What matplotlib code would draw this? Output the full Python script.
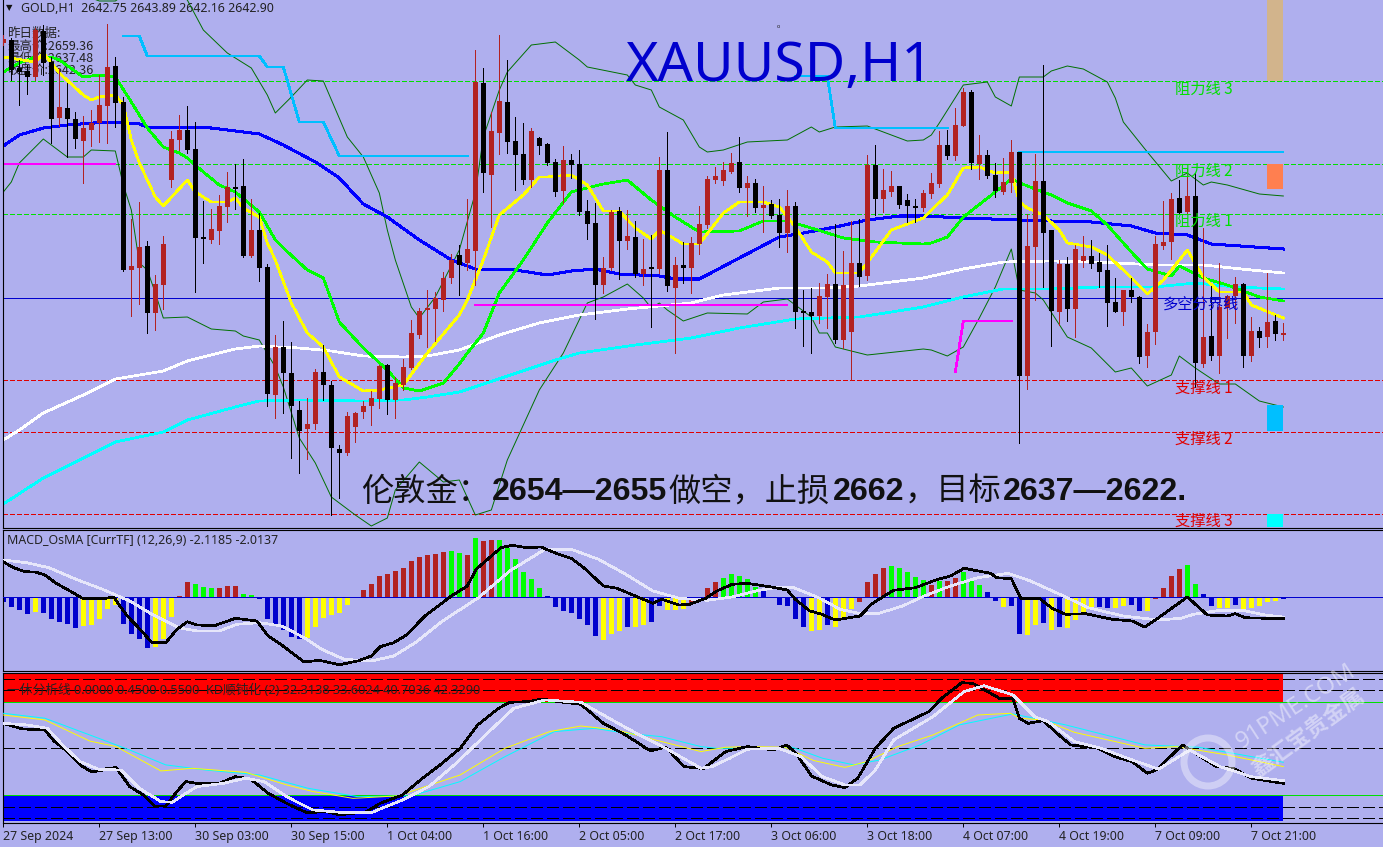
import matplotlib
matplotlib.use("Agg")
import matplotlib.pyplot as plt
import matplotlib.transforms as mtransforms
from matplotlib.patches import Rectangle, Circle

plt.rcParams['font.family'] = ['Noto Sans', 'Noto Sans CJK SC', 'DejaVu Sans']
plt.rcParams['lines.antialiased'] = False

# ---- price data, one value per hourly bar
opens = [2671.9,2672.2,2669.4,2669.1,2668.5,2673.1,2670.0,2664.4,2665.4,2664.3,2662.1,2663.2,2663.9,2665.6,2669.6,2666.0,2649.2,2649.4,2651.6,2644.9,
         2647.7,2658.2,2662.2,2663.2,2661.3,2652.4,2652.2,2653.1,2655.5,2657.4,2657.6,2650.6,2653.2,2649.5,2636.7,2641.5,2638.9,2635.2,2633.3,2633.8,
         2639.0,2637.7,2631.3,2630.9,2633.5,2635.0,2635.6,2636.3,2639.7,2636.2,2637.7,2639.4,2642.7,2645.2,2645.3,2646.2,2648.4,2650.7,2649.9,2651.1,
         2667.9,2658.7,2662.9,2666.0,2662.1,2660.8,2658.2,2662.4,2661.8,2660.0,2657.1,2660.2,2659.8,2655.1,2653.9,2647.7,2649.4,2655.1,2652.1,2652.5,
         2648.8,2649.4,2649.3,2659.2,2647.4,2649.7,2649.4,2651.8,2653.7,2658.2,2658.1,2659.0,2660.0,2657.4,2657.9,2655.4,2655.8,2654.7,2652.9,2655.6,
         2645.0,2645.0,2644.6,2646.5,2647.8,2642.2,2643.0,2649.9,2648.6,2659.7,2656.3,2657.0,2657.6,2656.2,2655.5,2655.4,2656.8,2657.8,2661.7,2660.6,
         2663.6,2667.0,2659.8,2660.7,2658.7,2657.0,2657.9,2661.0,2638.6,2651.5,2658.1,2653.2,2645.0,2649.8,2645.3,2650.1,2650.6,2650.0,2649.2,2646.0,
         2645.0,2647.2,2646.5,2640.6,2643.0,2651.6,2652.0,2656.4,2655.0,2656.6,2639.8,2642.6,2640.6,2645.4,2646.6,2647.8,2640.6,2643.1,2642.5,2644.1,2642.75]
highs = [2672.7,2672.4,2670.2,2669.7,2673.4,2673.7,2670.5,2669.4,2667.9,2665.0,2664.6,2665.2,2668.7,2673.8,2670.5,2666.5,2654.3,2656.0,2652.1,2648.7,
         2652.6,2663.1,2664.7,2665.6,2664.0,2656.1,2655.3,2656.7,2659.0,2659.8,2660.3,2656.3,2654.9,2649.8,2642.7,2644.1,2642.0,2636.1,2636.4,2639.3,
         2641.7,2638.1,2631.7,2635.0,2635.0,2636.1,2637.1,2639.7,2639.8,2638.5,2640.3,2644.2,2645.4,2647.2,2647.0,2649.0,2650.8,2651.7,2656.3,2671.2,
         2669.4,2665.0,2672.7,2670.2,2664.5,2663.9,2663.4,2662.5,2661.9,2660.3,2661.6,2660.8,2661.2,2656.2,2655.9,2650.5,2655.2,2655.5,2655.2,2654.1,
         2652.3,2652.7,2660.5,2663.0,2650.5,2652.0,2652.5,2655.6,2658.6,2659.5,2660.0,2660.9,2662.5,2658.6,2658.3,2657.6,2656.2,2656.3,2657.2,2656.0,
         2647.2,2647.4,2647.9,2648.8,2653.8,2651.1,2654.1,2654.3,2660.7,2661.7,2659.3,2659.1,2657.6,2656.8,2656.3,2657.2,2658.9,2663.1,2663.2,2665.4,
         2667.4,2667.2,2662.7,2661.2,2659.9,2660.4,2662.2,2661.0,2654.8,2660.8,2669.7,2653.2,2650.2,2650.5,2651.7,2652.6,2652.2,2650.9,2651.7,2648.4,
         2647.2,2648.4,2646.6,2643.8,2652.6,2656.1,2656.9,2658.2,2659.3,2658.9,2653.4,2647.6,2649.9,2646.7,2648.5,2647.9,2644.5,2643.5,2648.9,2644.7,2643.89]
lows = [2671.7,2668.2,2665.7,2666.8,2668.2,2668.7,2661.9,2663.6,2660.5,2661.4,2657.9,2661.6,2662.0,2661.9,2663.5,2649.1,2644.6,2645.8,2642.9,2643.2,
        2645.3,2657.5,2661.2,2660.9,2647.0,2649.9,2651.9,2651.8,2654.0,2655.3,2650.5,2650.5,2648.1,2635.6,2634.4,2634.9,2630.4,2628.9,2630.3,2633.3,
        2636.2,2624.7,2626.4,2630.7,2632.0,2634.4,2633.7,2635.4,2634.8,2634.4,2637.2,2639.3,2642.4,2641.5,2642.1,2645.1,2647.9,2646.7,2649.2,2647.7,
        2657.0,2653.5,2660.8,2660.9,2657.2,2657.8,2657.5,2660.8,2659.7,2656.6,2655.9,2658.4,2654.7,2652.3,2644.3,2646.9,2649.2,2648.3,2651.3,2648.5,
        2647.7,2643.5,2648.9,2647.1,2640.9,2647.9,2646.9,2650.8,2653.4,2657.9,2657.7,2658.9,2657.0,2654.6,2655.0,2653.0,2654.4,2651.5,2651.0,2643.4,
        2641.6,2640.9,2643.9,2643.4,2641.9,2641.4,2638.2,2647.6,2648.2,2654.7,2655.0,2656.6,2655.4,2654.0,2654.0,2655.1,2656.4,2657.5,2660.3,2660.2,
        2663.6,2659.3,2658.3,2658.4,2656.5,2656.8,2657.0,2631.9,2637.3,2646.2,2647.5,2641.6,2643.7,2644.1,2642.5,2649.5,2649.4,2647.5,2643.6,2645.0,
        2643.7,2646.0,2639.9,2639.5,2641.8,2651.3,2650.3,2654.9,2654.8,2637.5,2639.5,2640.2,2638.9,2642.4,2643.9,2639.5,2640.1,2641.5,2641.5,2642.2,2642.16]
closes = [2672.3,2669.2,2669.0,2668.5,2673.2,2669.9,2664.3,2665.5,2664.3,2662.3,2663.4,2663.9,2665.7,2669.5,2665.9,2649.2,2649.6,2651.5,2644.9,2647.8,
          2651.8,2662.3,2663.2,2661.2,2652.4,2652.3,2653.3,2655.6,2657.5,2657.3,2650.6,2653.2,2649.4,2636.8,2641.5,2638.9,2635.6,2633.1,2633.8,2639.0,
          2637.7,2631.4,2630.9,2634.6,2634.9,2635.6,2636.4,2639.6,2636.2,2637.9,2639.5,2642.9,2645.1,2645.4,2646.4,2648.4,2650.2,2649.7,2651.3,2668.0,
          2658.9,2663.1,2666.1,2662.0,2660.7,2658.2,2663.1,2661.6,2659.9,2657.0,2660.2,2659.7,2655.0,2653.8,2647.7,2649.4,2655.0,2652.1,2652.6,2648.8,
          2649.3,2649.3,2659.2,2647.6,2649.7,2649.4,2651.9,2653.8,2658.3,2658.6,2659.2,2659.9,2657.4,2657.9,2655.4,2655.7,2654.6,2652.9,2655.6,2645.0,
          2644.9,2644.6,2646.6,2647.8,2642.2,2647.7,2649.9,2648.5,2659.7,2656.3,2657.2,2657.6,2655.7,2655.6,2655.4,2656.9,2657.9,2661.7,2660.6,2663.7,
          2667.0,2659.9,2660.7,2658.6,2657.1,2658.0,2661.0,2638.6,2651.6,2658.1,2652.9,2645.1,2649.8,2645.3,2651.3,2650.6,2649.8,2649.0,2645.9,2645.0,
          2647.2,2646.5,2640.5,2643.0,2651.8,2652.0,2656.3,2654.9,2656.6,2639.9,2642.5,2640.6,2645.5,2646.6,2647.8,2640.6,2643.1,2642.4,2644.0,2642.8,2642.90]

# ---- moving averages, read as (bar, price) at the turning points
blue_k = [0,2,5,8,13,17,18,26,32,35,39,42,45,48,52,56,57,59,64,68,71,74,77,82,84,87,92,97,100,104,108,112,115,120,127,131,136,141,144,148,151,160]
blue_p = [2661.6,2662.7,2663.4,2663.7,2664.0,2663.8,2663.5,2663.4,2662.8,2661.7,2660.0,2658.4,2655.8,2654.5,2652.2,2650.2,2649.9,2649.3,2649.2,2648.7,2649.1,2649.3,2648.8,2648.6,2648.3,2648.3,2650.4,2652.5,2652.9,2653.5,2654.2,2654.6,2654.6,2654.4,2654.2,2654.1,2654.0,2653.6,2652.9,2652.7,2651.8,2651.3]
green_k = [0,2,4,6,7,10,12,14,16,18,20,22,23,25,27,29,32,34,35,38,40,42,45,48,50,52,55,57,58,60,62,65,68,71,75,78,81,84,87,92,95,98,101,105,109,115,116,118,120,124,126,128,131,133,136,138,141,143,146,147,150,153,157,160]
green_p = [2669.0,2669.9,2670.5,2670.5,2670.2,2668.5,2668.7,2668.5,2666.0,2663.4,2661.5,2660.9,2660.4,2659.0,2657.7,2657.0,2655.0,2652.2,2651.4,2649.2,2648.4,2644.0,2641.4,2639.2,2637.4,2637.1,2637.9,2639.8,2640.9,2642.9,2646.9,2650.2,2653.9,2657.0,2657.8,2658.2,2656.2,2654.5,2653.0,2653.1,2654.1,2654.1,2653.4,2652.4,2652.0,2651.8,2651.9,2652.5,2654.5,2657.0,2658.3,2657.6,2656.7,2655.9,2655.1,2653.7,2651.0,2649.3,2648.6,2649.6,2648.4,2647.7,2646.5,2646.1]
yellow_k = [0,4,5,6,7,10,11,12,14,15,16,17,19,20,23,24,26,28,29,30,32,33,34,36,38,40,42,45,47,50,53,57,58,60,62,65,67,68,71,73,75,77,79,81,82,85,87,90,92,95,97,99,101,103,104,107,109,111,115,116,118,120,122,124,126,127,128,130,132,133,136,138,140,143,145,148,150,152,155,156,160]
yellow_p = [2670.5,2670.0,2670.9,2669.9,2668.9,2666.7,2666.2,2666.5,2666.7,2665.7,2662.2,2659.9,2656.5,2655.6,2658.2,2657.0,2656.0,2656.0,2656.4,2655.4,2654.5,2651.9,2650.2,2645.9,2642.9,2641.5,2638.5,2637.1,2637.2,2637.7,2640.9,2644.7,2646.2,2650.2,2654.7,2656.7,2658.5,2658.5,2658.7,2657.7,2655.1,2655.1,2653.4,2652.3,2653.2,2651.8,2651.8,2654.9,2656.0,2656.0,2655.5,2653.5,2651.0,2650.0,2648.9,2648.9,2651.0,2653.2,2654.4,2655.2,2656.7,2659.4,2659.5,2658.9,2659.0,2656.0,2655.4,2654.7,2653.2,2651.9,2651.5,2650.7,2649.2,2646.8,2648.2,2651.2,2648.5,2647.0,2647.0,2645.7,2644.4]
white_k = [0,2,5,10,14,20,23,29,32,37,41,45,50,53,57,62,67,72,78,86,90,97,103,107,115,120,125,131,137,144,150,156,160]
white_p = [2632.2,2633.2,2634.9,2636.7,2638.3,2639.1,2640.1,2641.3,2641.6,2641.4,2641.1,2640.6,2640.5,2640.6,2641.2,2642.7,2643.9,2644.7,2645.3,2645.9,2646.7,2647.4,2647.4,2647.6,2648.4,2649.3,2650.0,2650.1,2650.0,2649.7,2649.7,2649.2,2648.9]
cyan_k = [0,5,10,14,20,23,29,32,37,45,50,53,57,69,72,79,86,92,99,103,107,115,120,125,131,137,144,149,154,160]
cyan_p = [2625.8,2628.4,2630.4,2632.0,2633.0,2634.2,2635.5,2636.1,2636.2,2636.1,2636.2,2636.5,2637.0,2640.2,2640.9,2641.7,2642.4,2643.4,2644.3,2644.4,2644.5,2645.5,2646.5,2647.3,2647.3,2647.5,2647.5,2647.9,2647.5,2647.3]
upper_k = [0,10,12,14,16,20,23,25,28,31,33,34,36,38,40,43,45,47,48,49,51,52,54,57,59,60,62,63,66,69,72,73,78,79,81,82,85,87,88,90,93,98,101,102,104,108,113,115,116,117,120,123,124,126,127,130,131,133,135,138,139,140,143,146,148,150,151,153,157,160]
upper_p = [2679.2,2676.7,2676.1,2676.1,2677.2,2677.7,2676.2,2673.2,2670.9,2669.4,2666.7,2664.9,2666.5,2668.2,2668.1,2662.5,2660.5,2656.9,2653.2,2650.2,2645.5,2644.4,2646.5,2651.2,2656.9,2662.5,2667.2,2669.0,2671.7,2672.0,2670.2,2669.5,2668.7,2667.7,2667.2,2665.5,2664.2,2661.5,2661.0,2661.2,2662.0,2662.2,2663.5,2663.0,2663.5,2663.6,2662.1,2662.2,2662.7,2663.9,2667.7,2668.0,2666.5,2665.6,2668.5,2668.5,2669.1,2669.6,2669.3,2668.0,2666.4,2664.0,2661.0,2658.1,2658.9,2657.7,2658.0,2657.7,2656.8,2656.6]
lower_k = [0,1,2,4,5,8,10,11,14,15,16,17,18,19,20,23,26,29,30,32,34,35,37,39,41,44,46,48,49,52,55,57,59,61,63,67,70,73,75,78,80,81,82,83,85,88,93,95,98,101,102,103,104,108,115,116,118,120,122,124,126,127,129,130,133,136,139,141,143,146,147,149,152,154,157,160]
lower_p = [2657.0,2658.0,2659.9,2661.5,2662.3,2660.5,2660.5,2661.2,2661.1,2657.7,2655.2,2649.9,2649.2,2646.9,2644.4,2644.5,2643.3,2643.1,2642.6,2642.2,2639.5,2637.5,2632.4,2629.9,2626.5,2624.7,2623.6,2624.4,2627.2,2630.0,2628.0,2628.2,2624.7,2625.2,2630.2,2637.2,2640.9,2645.9,2646.5,2647.8,2646.4,2645.4,2645.9,2645.2,2644.1,2644.9,2644.8,2646.0,2646.3,2644.5,2642.9,2642.9,2641.5,2640.7,2641.3,2641.2,2640.6,2641.5,2644.4,2647.5,2651.3,2647.2,2646.9,2646.2,2642.5,2641.4,2639.0,2639.4,2637.6,2638.7,2640.6,2639.4,2637.8,2637.8,2636.1,2635.5]

# stepped light blue line and the magenta pieces
stair_parts = [([15,17,18,32,33,35,37,40,42,58], [2672.6,2672.6,2670.6,2670.6,2669.5,2669.5,2664.0,2664.0,2660.6,2660.6]),
               ([99,103,104,118], [2668.6,2668.6,2663.4,2663.4]),
               ([127,160], [2661.0,2661.0])]
magenta_parts = [([0,14], [2659.8,2659.8]),
                 ([59,98], [2645.7,2645.7]),
                 ([119,120,126], [2639.0,2644.1,2644.1])]

resist_levels = [2668.1, 2659.8, 2654.8]
support_levels = [2638.2, 2633.0, 2624.8]
pivot_level = 2646.4

# ---- MACD panel
hist = [-0.47,-0.97,-1.33,-1.73,-1.47,-1.57,-2.23,-2.5,-2.73,-3.07,-2.9,-2.77,-2.23,-1.17,-0.83,-2.67,-3.73,-4.17,-5.07,-4.97,
        -4.17,-2.0,0.13,1.53,1.33,1.03,0.93,0.93,1.13,1.13,0.33,0.23,-0.23,-2.17,-2.73,-3.33,-3.97,-4.23,-4.07,-2.97,
        -2.07,-1.8,-1.57,-0.77,0,0.73,1.33,2.13,2.33,2.63,2.93,3.6,4.03,4.23,4.3,4.5,4.63,4.43,4.23,5.93,
        5.63,5.73,5.73,4.93,3.83,2.53,1.83,0.93,0.13,-0.97,-1.37,-1.57,-2.17,-2.77,-3.87,-4.27,-3.67,-3.37,-2.97,-2.97,
        -2.77,-2.47,-0.87,-1.27,-1.27,-1.17,-0.57,-0.23,0.93,1.53,1.93,2.33,2.13,1.83,1.0,0.6,0,-0.77,-0.87,-2.17,
        -2.97,-3.37,-3.27,-2.77,-2.97,-2.17,-1.17,-0.47,1.53,2.33,2.93,3.13,2.93,2.53,2.03,1.73,1.23,1.63,1.63,1.93,
        2.53,1.6,1.23,0.53,-0.37,-0.97,-0.87,-3.67,-3.77,-2.77,-2.57,-3.27,-2.97,-3.07,-2.27,-1.57,-1.07,-0.97,-1.07,-1.07,
        -0.87,-0.77,-1.37,-1.37,-0.17,0.93,2.13,2.83,3.23,1.33,0.33,-0.87,-1.07,-1.07,-0.77,-1.27,-1.07,-0.87,-0.47,-0.37,-0.23]
hist_colors = ("bbbbybbbbbyyyyybbbbyyyrrgggrrrggbbbbbbyyyyyyrrrrrrrrrrrrggrgrrggggggbbbbbbbyyybyybbyyy"
               "rrrrgggggbbbbbbyybyyyrrrrgggggrgrrgggbbybbyybybyyyybbyybbyrrrrggbbyybyyyyy")
macd_k = [0,1.3,2.7,4,5.2,6.6,8.5,9.9,12.4,13.8,14.4,15.5,16.9,18.6,20.3,21.7,23,24.2,26.4,29,31.7,33.1,34.8,37.6,39.5,42,44.3,46,47.1,48.8,50.4,52.7,56,58,59.1,62.2,63.6,65.5,67.2,69.4,71,72.8,75,76.7,79,81.2,82.3,84.5,85.8,87.8,89.2,91.1,93,96,98,99,100.8,102.1,104,107.1,108.5,110.1,111.3,114,116.8,118.4,120.1,123.4,124.2,126,127.2,129.5,131.1,132.8,135.3,138.6,141.1,142.7,144.4,148,150.5,153,154,155.2,157.9,160]
macd_v = [3.5,2.93,2.53,2.5,2.2,1.37,0.53,-0.13,-0.17,0,-0.73,-1.9,-3.07,-4.57,-4.57,-3.23,-2.47,-2.8,-2.87,-2.13,-2.4,-3.9,-4.8,-6.5,-6.33,-6.77,-6.4,-5.9,-4.97,-4.57,-3.8,-1.9,0.1,1.1,2.77,4.93,5.17,4.93,5.0,4.27,3.87,2.77,1.1,0.87,0.1,-0.63,-0.23,-0.8,-0.73,-0.13,0.6,1.27,1.37,1.0,0.7,-0.23,-1.4,-1.67,-2.3,-1.9,-0.73,0.1,0.67,0.93,1.77,2.1,2.87,2.37,1.93,1.83,-0.13,-0.13,-1.13,-1.73,-1.67,-2.23,-2.4,-3.0,-2.07,0,-1.8,-1.9,-1.67,-2.07,-2.13,-2.12]
signal_k = [0,2.9,5.7,9.1,12.4,15.8,18.6,21.9,24.2,27,29.2,32,34.8,37.6,39.8,42.6,46,48.8,51.5,54.9,59.4,63.3,67.7,71,74.4,77.8,81.2,84.5,88,91.1,94.1,96.9,98.8,101.9,104.6,107.1,109.3,112.4,115.1,118.4,121.8,125.6,128.4,132.8,135.6,140,144.4,147.2,148.8,152.1,154.9,157.7,160]
signal_v = [3.7,3.43,2.93,1.77,0.77,-0.4,-1.73,-3.07,-3.4,-3.4,-2.73,-2.57,-2.9,-4.07,-5.23,-6.23,-6.4,-5.9,-4.57,-2.4,-0.07,2.6,4.77,4.77,3.77,2.27,0.6,-0.13,-0.33,0,0.6,1.0,0.93,-0.07,-1.23,-1.67,-1.67,-0.9,0.1,1.1,1.93,2.37,1.6,0,-1.07,-1.9,-2.3,-2.13,-1.73,-1.33,-1.33,-1.8,-2.01]

# ---- KD panel
kd_black_k = [0,2.4,5.2,6.3,8,9.6,11,12.2,13,14.1,15.8,17.5,18.9,20.3,21.7,22.8,24.2,27,29,30.9,33.1,35.4,37.9,40.4,42,45.4,47.1,49.9,52.4,54.6,57.1,59.3,61.9,63.3,65.5,67.4,69.4,72.2,75,77.8,80.9,82.8,85.1,87.5,90.3,93,96.3,97.9,99.1,101,103.5,105.2,106.8,109,111.3,113.5,115.7,117.3,119.8,121.2,124.5,126.2,127,128.1,130,131.7,133.4,136.9,138.9,141.1,143,144.1,147.4,151.6,153.8,156,160]
kd_black_v = [66.2,62.6,61.9,55,48,39.4,35,35.7,37.2,37.6,25.4,20,12.9,12.9,22.2,28.6,27.5,27.5,31.8,30.3,21.1,14.6,8.6,9.2,7.1,9.2,14.6,20,30.8,39.4,50.1,65.2,75.9,79.8,80.2,81.9,80.2,78.5,66.2,58.7,48.4,50.8,38.3,37,48,51.2,49,52.3,46.9,32.3,26.5,24.7,30.8,50.1,63,68.4,73.8,82.4,92.5,92,82.4,82.4,69.5,66.2,68,59.8,52.3,50.1,44.7,41.5,34,36.1,52.3,38.3,37.2,30.8,27.5]
kd_white_k = [0,2.9,5.5,7.4,9.6,11.9,14.7,17,19.7,21.1,22.5,24.2,27.5,30.3,32.6,35.4,38.7,42.6,46,49.9,53.2,56.6,60.5,63.8,67.7,72.2,76.1,79.5,82.8,87.2,88.6,90.8,93,96.9,99.7,102.4,105.2,107.1,109,111.3,116.2,120.1,122.6,126.2,128.9,130.6,133.9,137.2,141.1,144.4,148.3,152.1,156,160]
kd_white_v = [66.2,65.2,63,52.3,41.5,36.6,36.1,24.3,15.7,15.3,20,25.4,27.5,30.8,28.6,18.9,10.3,8.6,8.6,16.8,25.4,40.4,59.8,75.9,81.3,79.8,68.4,58.7,50.1,37.2,38.3,43.7,49.5,50.1,44.7,31.8,26.5,26.5,36.1,55.5,70.5,86.7,90.5,84.5,70.5,67.3,54.4,50.1,42.6,36.6,49,38.3,31.8,29.2]
kd_yellow_k = [0,5.2,10.8,14.1,19.7,23.6,30.3,35.4,38.7,43.7,49.3,57.1,62.7,68.3,72.2,76.7,81.2,87.2,90.3,93.6,97.7,101.3,105.2,107.9,111.8,116.2,121.8,125.9,127,130,133.9,142.7,146.6,153,160]
kd_yellow_v = [71.6,68.4,54.8,51.2,35.5,37.2,34.6,26.5,22.2,17.8,19.4,32.9,50.1,60.9,64.5,61.9,55.9,48,50.8,51.2,50.8,42.2,37.8,41.5,51.2,58.7,71.6,72.7,69.5,68.4,60.4,50.1,51.2,45.8,38.3]
kd_cyan_k = [0,5.2,11.9,15.8,20.3,25.3,32,38.1,44.3,51,57.1,62.7,68.9,73.9,77.8,82.3,87.2,89.2,93.6,98.6,102.4,106.3,109.6,114.6,119.5,126.2,132.8,142.7,149.4,160]
kd_cyan_v = [72.7,69.5,56.6,49,39.4,36.1,32.9,24.3,18.9,19.4,28.6,44.7,60.9,63,59.8,57.6,51.2,50.1,50.1,50.8,43.7,39.4,42.6,52.3,65.2,72.3,65.2,52.3,50.8,41.1]
kd_levels = [95, 88, 50, 12, 5]
kd_top_zone = [80, 98.7]
kd_low_zone = [3, 20]

tick_bars = list(range(0, 157, 12))
tick_labels = ["27 Sep 2024","27 Sep 13:00","30 Sep 03:00","30 Sep 15:00","1 Oct 04:00","1 Oct 16:00","2 Oct 05:00",
               "2 Oct 17:00","3 Oct 06:00","3 Oct 18:00","4 Oct 07:00","4 Oct 19:00","7 Oct 09:00","7 Oct 21:00"]

BG = "#AFAFEE"
W, H = 1383, 847
fig = plt.figure(figsize=(W/100, H/100), dpi=100, facecolor=BG)


def panel(top, bottom):
    ax = fig.add_axes([3/W, 1-bottom/H, (W-3)/W, (bottom-top)/H], facecolor=BG)
    ax.set_xlim(-0.04, 172.46)
    for s in ["top", "left", "bottom"]:
        ax.spines[s].set_linewidth(0.8)
    ax.spines["right"].set_visible(False)
    ax.set_yticks([])
    ax.set_xticks([])
    return ax


ax1 = panel(0, 528)
ax2 = panel(530, 671)
ax3 = panel(673, 823)
ax1.spines["top"].set_visible(False)
ax1.set_ylim(2623.4, 2676.2)
ax2.set_ylim(-7.4, 6.7)
ax3.set_ylim(1.9, 98.7)

# pixel positions for things that are not data (labels, side blocks)
pix = mtransforms.Affine2D().scale(1/W, -1/H).translate(0, 1) + fig.transFigure
CJK = ['Noto Sans CJK SC', 'DejaVu Sans']

# -------- main panel
for y in resist_levels:
    ax1.axhline(y, color="#00e000", lw=0.6, ls=(0, (5, 3)), zorder=1)
for y in support_levels:
    ax1.axhline(y, color="#e00000", lw=0.6, ls=(0, (5, 3)), zorder=1)
ax1.axhline(pivot_level, color="#0000cd", lw=0.6, zorder=1)

# the thin lines need smoothing, aliased ones come out two pixels wide
ax1.plot(upper_k, upper_p, color="#007000", lw=0.7, antialiased=True, zorder=2)
ax1.plot(lower_k, lower_p, color="#007000", lw=0.7, antialiased=True, zorder=2)
ax1.plot(white_k, white_p, color="white", lw=1.25, zorder=2)
ax1.plot(cyan_k, cyan_p, color="cyan", lw=1.25, zorder=2)
ax1.plot(blue_k, blue_p, color="#0000ff", lw=1.45, zorder=2)
ax1.plot(green_k, green_p, color="#00ff00", lw=1.25, zorder=2)
ax1.plot(yellow_k, yellow_p, color="yellow", lw=1.25, zorder=2)
for xs, ys in stair_parts:
    ax1.plot(xs, ys, color="#00bfff", lw=1.25, zorder=2)
for xs, ys in magenta_parts:
    ax1.plot(xs, ys, color="#ff00ff", lw=1.25, zorder=2)

for k in range(len(opens)):
    c = "#B22222" if closes[k] >= opens[k] else "black"
    low_body = min(opens[k], closes[k])
    body = max(abs(closes[k] - opens[k]), 0.15)
    ax1.vlines(k, lows[k], highs[k], color=c, lw=0.6, zorder=4, antialiased=False)
    ax1.bar(k, body, bottom=low_body, width=0.65, color=c, zorder=5, antialiased=False)

# side blocks on the right
for y0, y1, col in [(0, 81, "#D2B48C"), (164, 189, "#FF7F50"), (405, 431, "#00BFFF"), (514, 527, "#00FFFF")]:
    ax1.add_patch(Rectangle((1267, y0), 16, y1-y0, transform=pix, color=col, zorder=3, lw=0, clip_on=False))

# header text
ax1.text(6, 8, "▼", transform=pix, fontsize=6, color="#111111", va="center", family="DejaVu Sans", zorder=1)
ax1.text(21, 8, "GOLD,H1  2642.75 2643.89 2642.16 2642.90", transform=pix, fontsize=8.9, color="#222222", va="center", zorder=1)
ax1.text(7, 33, "昨日数据:", transform=pix, fontsize=9, color="#222222", va="center", family=CJK, zorder=1)
ax1.text(7, 46, "最高价:2659.36", transform=pix, fontsize=9, color="#222222", va="center", family=CJK, zorder=1)
ax1.text(7, 58, "最低价:2637.48", transform=pix, fontsize=9, color="#222222", va="center", family=CJK, zorder=1)
ax1.text(7, 70, "收盘价:2642.36", transform=pix, fontsize=9, color="#222222", va="center", family=CJK, zorder=1)

ax1.text(626, 67, "XAUUSD,H1", transform=pix, fontsize=40, color="#0000cd", va="center", family="Noto Sans", zorder=6)
ax1.text(778, 26, "o", transform=pix, fontsize=4, color="#222222", ha="center", va="center", zorder=6)

# right side level names
for y, t, col, x0 in [(89, "阻力线 3", "#00e000", 1175), (171, "阻力线 2", "#00e000", 1175), (221, "阻力线 1", "#00e000", 1175),
                      (304, "多空分界线", "#0000cd", 1163), (388, "支撑线 1", "#e00000", 1175),
                      (439, "支撑线 2", "#e00000", 1175), (521, "支撑线 3", "#e00000", 1175)]:
    ax1.text(x0, y, t, transform=pix, fontsize=11, color=col, va="center", family=CJK, zorder=6)

# big comment line, numbers in bold
for x0, t, wt in [(361, "伦敦金：", "normal"), (492, "2654—2655", "bold"), (668, "做空，止损", "normal"),
                  (833, "2662", "bold"), (905, "，目标", "normal"), (1003, "2637—2622.", "bold")]:
    fam = ["Liberation Sans"] + CJK if wt == "bold" else CJK
    ax1.text(x0, 492, t, transform=pix, fontsize=23.2, color="#111111", va="center", family=fam, weight=wt, zorder=6)

# -------- MACD panel
color_map = {"b": "#0000cd", "y": "#ffff00", "r": "#B22222", "g": "#00ff00"}
bar_cols = [color_map[hist_colors[i]] if i < len(hist_colors) else "#0000cd" for i in range(len(hist))]
ax2.bar(range(len(hist)), hist, width=0.65, color=bar_cols, zorder=2, antialiased=False)
ax2.axhline(0, color="#0000cd", lw=0.6, zorder=3)
ax2.plot(signal_k, signal_v, color="#e6e6fa", lw=1.2, zorder=4)
ax2.plot(macd_k, macd_v, color="black", lw=1.2, zorder=5)
ax2.text(7, 541, "MACD_OsMA [CurrTF] (12,26,9) -2.1185 -2.0137", transform=pix, fontsize=8.9, color="#222222", va="center", zorder=6)

# -------- KD panel
ax3.fill_between([-0.5, 160], kd_top_zone[0], kd_top_zone[1], color="#ff0000", lw=0, zorder=1)
ax3.fill_between([-0.5, 160], kd_low_zone[0], kd_low_zone[1], color="#0000ff", lw=0, zorder=1)
ax3.axhline(kd_top_zone[0], color="#00e000", lw=0.6, zorder=2)
ax3.axhline(kd_low_zone[1], color="#00e000", lw=0.6, zorder=2)
for v in kd_levels:
    ax3.axhline(v, color="black", lw=0.6, ls=(0, (14, 6)), zorder=2)
ax3.plot(kd_cyan_k, kd_cyan_v, color="cyan", lw=0.7, antialiased=True, zorder=3)
ax3.plot(kd_yellow_k, kd_yellow_v, color="yellow", lw=0.7, antialiased=True, zorder=3)
ax3.plot(kd_black_k, kd_black_v, color="black", lw=1.2, zorder=4)
ax3.plot(kd_white_k, kd_white_v, color="#e6e6fa", lw=1.2, zorder=5)
ax3.text(7, 690, "一休分析线 0.0000 0.4500 0.5500  KD顺钝化 (2) 32.3138 33.6024 40.7036 42.3290", transform=pix,
         fontsize=9.15, color="#222222", va="center", family=['Noto Sans'] + CJK, zorder=6)

ax3.set_xticks(tick_bars)
ax3.set_xticklabels(tick_labels, ha="left", fontsize=8.9, color="#222222")
ax3.tick_params(axis="x", length=3, width=0.7, pad=2)

# -------- watermark
wm = fig.add_axes([0, 0, 1, 1], facecolor="none")
wm.set_xlim(0, W)
wm.set_ylim(H, 0)
wm.axis("off")
wm.add_patch(Circle((1208, 762), 24, fill=False, ec="white", lw=5, alpha=0.4))
wm.text(1296, 707, "91PME.COM", fontsize=17, color="white", alpha=0.45, rotation=33, ha="center", va="center", weight="bold")
wm.text(1308, 733, "鑫汇宝贵金属", fontsize=16, color="white", alpha=0.45, rotation=36, ha="center", va="center", family=CJK, weight="bold")

fig.savefig("out.png", dpi=100, facecolor=BG)
